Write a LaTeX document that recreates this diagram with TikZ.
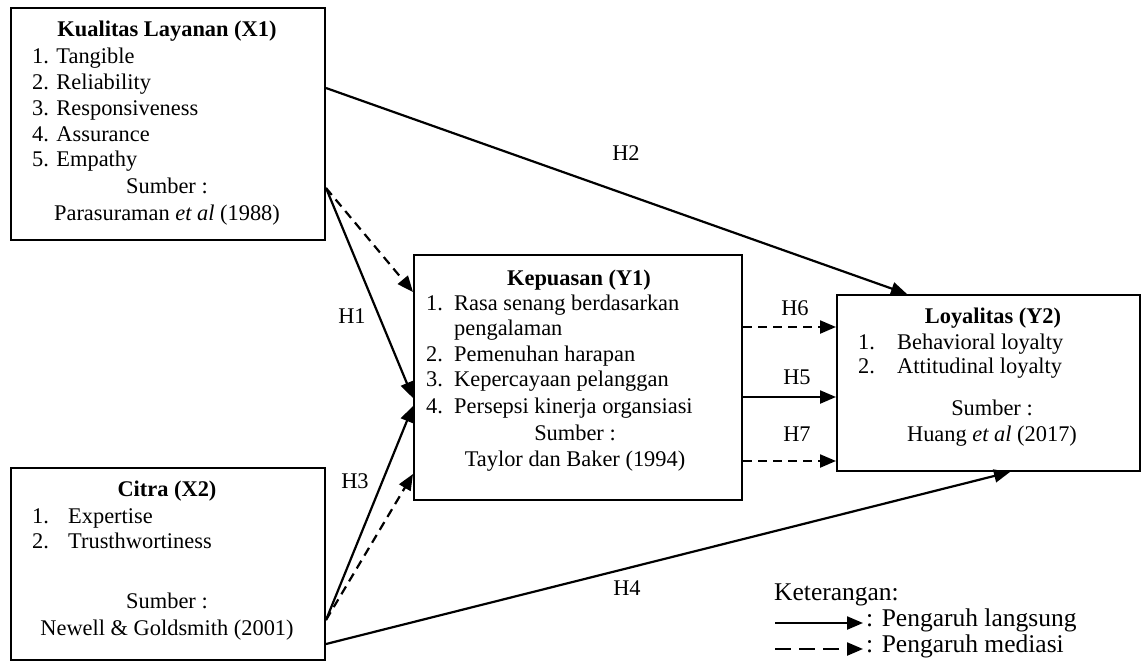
\documentclass[tikz,border=0pt]{standalone}
\usepackage{fontspec}
\setmainfont{Liberation Serif}
\usetikzlibrary{arrows.meta}
\begin{document}
\begin{tikzpicture}[x=1pt,y=-1pt,
  box/.style={draw, line width=2pt, inner sep=0pt},
  txt/.style={inner sep=0pt, font=\fontsize{22.4}{26}\selectfont, text height=0.9em, text depth=0.24em},
  ttl/.style={txt, font=\fontsize{22.4}{26}\selectfont\bfseries},
  lft/.style={txt, anchor=west},
  lg/.style={inner sep=0pt, anchor=west, font=\fontsize{25.5}{30}\selectfont, text height=0.9em, text depth=0.24em},
  conn/.style={line width=2.2pt, -{Triangle[length=16pt,width=13pt]}},
  med/.style={conn, dash pattern=on 9pt off 6pt},
  legmed/.style={conn, dash pattern=on 16pt off 8pt},
]
\useasboundingbox (0,0) rectangle (1142,670);

% boxes
\node[box, minimum width=314pt, minimum height=232pt] (x1) at (168,124) {};
\node[box, minimum width=328pt, minimum height=245pt] (y1) at (578,377.5) {};
\node[box, minimum width=303pt, minimum height=176pt] (y2) at (988.5,383) {};
\node[box, minimum width=314pt, minimum height=192pt] (x2) at (168,564) {};

% X1 text
\node[ttl] (x1t) at (167,33) {Kualitas Layanan (X1)};
\node[lft] (x1a) at (32,60) {1. Tangible};
\node[lft] (x1b) at (32,86) {2. Reliability};
\node[lft] (x1c) at (32,112) {3. Responsiveness};
\node[lft] (x1d) at (32,138) {4. Assurance};
\node[lft] (x1e) at (32,163) {5. Empathy};
\node[txt] (x1s) at (167,190) {Sumber :};
\node[txt] (x1r) at (167,217) {Parasuraman \textit{et al} (1988)};

% Y1 text
\node[ttl] (y1t) at (579,282) {Kepuasan (Y1)};
\node[lft] (y1n1) at (426,307) {1.};
\node[lft] (y1a) at (454,307) {Rasa senang berdasarkan};
\node[lft] (y1a2) at (454,332) {pengalaman};
\node[lft] (y1n2) at (426,358) {2.};
\node[lft] (y1b) at (454,358) {Pemenuhan harapan};
\node[lft] (y1n3) at (426,383) {3.};
\node[lft] (y1c) at (454,383) {Kepercayaan pelanggan};
\node[lft] (y1n4) at (426,410) {4.};
\node[lft] (y1d) at (454,410) {Persepsi kinerja organsiasi};
\node[txt] (y1s) at (575,437) {Sumber :};
\node[txt] (y1r) at (575,463) {Taylor dan Baker (1994)};

% Y2 text
\node[ttl] (y2t) at (993,320) {Loyalitas (Y2)};
\node[lft] (y2n1) at (858,346) {1.};
\node[lft] (y2a) at (897,346) {Behavioral loyalty};
\node[lft] (y2n2) at (858,370) {2.};
\node[lft] (y2b) at (897,370) {Attitudinal loyalty};
\node[txt] (y2s) at (992,412) {Sumber :};
\node[txt] (y2r) at (992,438) {Huang \textit{et al} (2017)};

% X2 text
\node[ttl] (x2t) at (167,493) {Citra (X2)};
\node[lft] (x2n1) at (32,520) {1.};
\node[lft] (x2a) at (68,520) {Expertise};
\node[lft] (x2n2) at (32,545) {2.};
\node[lft] (x2b) at (68,545) {Trusthwortiness};
\node[txt] (x2s) at (167,605) {Sumber :};
\node[txt] (x2r) at (167,632) {Newell \& Goldsmith (2001)};

% connectors
\draw[conn] ([yshift=36pt]x1.east) -- ([xshift=-81.5pt]y2.north);
\draw[conn] ([yshift=-64pt]x1.east) -- ([yshift=-20.5pt]y1.west);
\draw[med]  ([yshift=-64pt]x1.east) -- ([yshift=85.5pt]y1.west);
\draw[conn] ([yshift=-56pt]x2.east) -- ([yshift=-28.5pt]y1.west);
\draw[med]  ([yshift=-56pt]x2.east) -- ([yshift=-96.5pt]y1.west);
\draw[conn] ([yshift=-80pt]x2.east) -- ([xshift=21.5pt]y2.south);
\draw[med]  ([yshift=50.5pt]y1.east) -- ([yshift=56pt]y2.west);
\draw[conn] ([yshift=-19.5pt]y1.east) -- ([yshift=-14pt]y2.west);
\draw[med]  ([yshift=-83.5pt]y1.east) -- ([yshift=-78pt]y2.west);

% hypothesis labels
\node[txt] (h2) at (626,157) {H2};
\node[txt] (h1) at (352,320) {H1};
\node[txt] (h3) at (355,485) {H3};
\node[txt] (h4) at (627,592) {H4};
\node[txt] (h6) at (795,312) {H6};
\node[txt] (h5) at (797,381) {H5};
\node[txt] (h7) at (797,438) {H7};

% legend
\node[lg] (kt) at (774,597) {Keterangan:};
\node[lg] (lt1) at (866,623) {: Pengaruh langsung};
\node[lg] (lt2) at (866,649) {: Pengaruh mediasi};
\coordinate (ls1) at (775,623);
\coordinate (ls2) at (775,649);
\draw[conn] (ls1) -- ([xshift=-3pt]lt1.west);
\draw[legmed] (ls2) -- ([xshift=-3pt]lt2.west);
\end{tikzpicture}
\end{document}
